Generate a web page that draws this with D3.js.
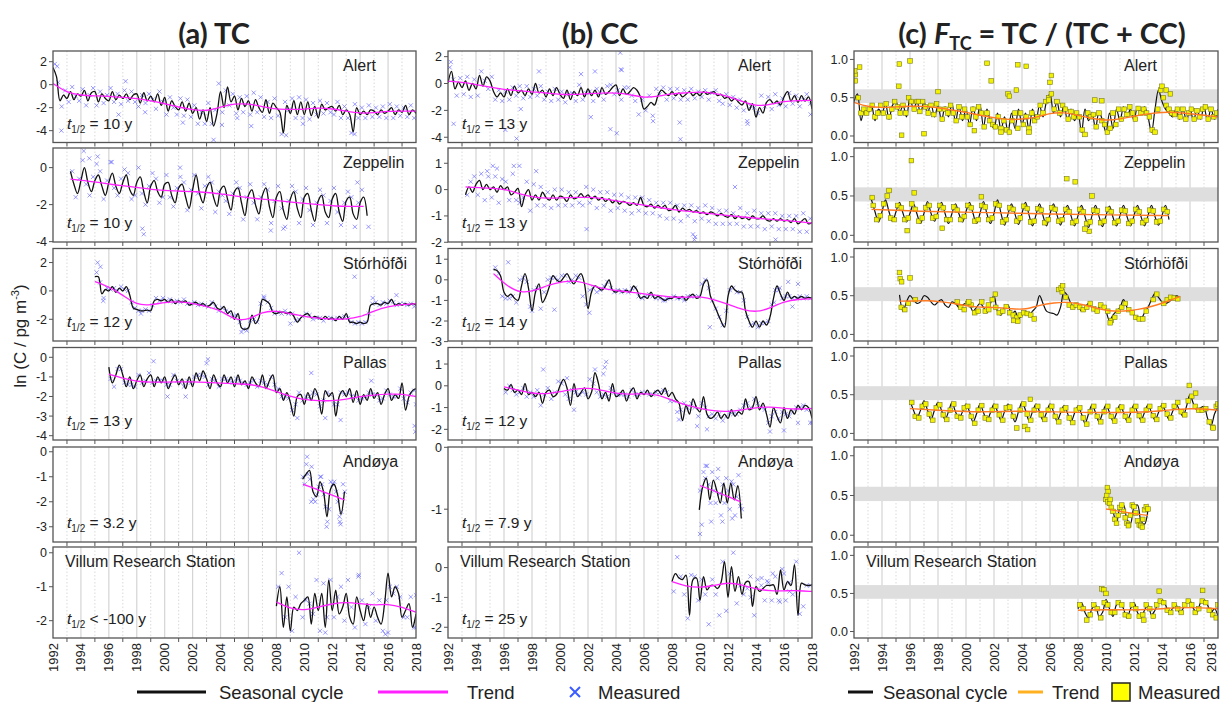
<!DOCTYPE html>
<html>
<head>
<meta charset="utf-8">
<script src="https://cdn.jsdelivr.net/npm/d3@7"></script>
<style>
  body { margin: 0; background: #fff; }
  text { font-family: "Liberation Sans", Arial, sans-serif; fill: #222; }
</style>
</head>
<body>
<svg id="chart" width="1220" height="702"></svg>
<script>
// ---------- data ----------
// each series is [t0, t1, values]: values are evenly spaced in time from t0 to t1
// outliers are [year, value] pairs

const stations = ["Alert", "Zeppelin", "Stórhöfði", "Pallas", "Andøya", "Villum Research Station"];
const halfLifeTC = ["= 10 y", "= 10 y", "= 12 y", "= 13 y", "= 3.2 y", "< -100 y"];
const halfLifeCC = ["= 13 y", "= 13 y", "= 14 y", "= 12 y", "= 7.9 y", "= 25 y"];
const yearLabels = d3.range(1992, 2019, 2);

const yDomTC = [[-5.03, 2.93], [-4.02, 1.06], [-3.53, 2.99], [-4.22, 0.5], [-3.61, 0.19], [-2.51, 0.17]];
const yTicksTC = [[2, 0, -2, -4], [0, -2, -4], [2, 0, -2], [0, -1, -2, -3, -4], [0, -1, -2, -3], [0, -1, -2]];
const yDomCC = [[-4.39, 2.42], [-1.99, 1.58], [-2.97, 1.52], [-2.49, 1.76], [-1.53, 0.005], [-2.36, 0.69]];
const yTicksCC = [[2, 0, -2, -4], [1, 0, -1, -2], [1, 0, -1, -2, -3], [1, 0, -1, -2], [0, -1], [0, -1, -2]];
const yDomF = [-0.085, 1.11];
const yTicksF = [1.0, 0.5, 0.0];
const fBand = [0.43, 0.61];

// ---- TC ----
const tcAlertSeas = [1.5,0.7,-1.4,-0.9, -1.2,-0.6,-1.3,-0.8, -1.0,-0.5,-1.4,-0.7, -0.6,-1.5,-0.8,-1.2,
  -1.4,-0.6,-1.3,-0.9, -1.2,-0.8,-1.3,-0.9, -0.8,-1.6,-0.7,-1.4, -1.0,-1.5,-0.8,-1.8,
  -1.1,-2.3,-1.4,-1.9, -2.2,-1.5,-2.3,-1.6, -2.5,-2.0,-3.0,-2.2, -3.2,-2.0,-3.6,-2.5,
  -0.6,-2.0,-0.2,-1.5, -1.0,-2.2,-1.2,-1.9, -1.4,-2.3,-1.3,-2.0, -2.4,-1.3,-2.5,-1.6,
  -2.0,-2.4,-4.2,-1.8, -2.5,-1.4,-2.6,-1.5, -2.6,-1.5,-2.7,-1.9, -2.9,-1.7,-2.2,-2.0,
  -1.9,-2.3,-1.8,-2.6, -2.2,-2.6,-4.1,-2.0, -2.6,-2.3,-2.6,-2.2, -2.3,-2.6,-2.2,-2.5,
  -2.3,-2.0,-2.6,-2.2, -2.4,-1.8,-2.6,-2.2, -2.5];
const tcAlertTrend = [0.1,-0.7,-0.93,-0.97,-1.0,-1.1,-1.2,-1.4,-1.65,-1.95,-2.2,-2.3,-1.95,-1.65,-1.65,-1.9,-2.15,-2.15,-2.15,-2.0,-2.1,-2.3,-2.5,-2.45,-2.3,-2.3,-2.3];
const tcAlertMeas = [1.8,0.2,-1.9,-0.5, -1.5,-0.2,-1.0,-1.4, -0.4,-1.8,-0.9,-0.3, -1.8,-0.6,-1.6,-0.9,
  -0.3,-1.5,-0.8,-1.7, -0.5,-1.4,-0.6,-1.5, -1.9,-0.9,-1.6,-0.8, -1.3,-2.1,-0.6,-1.5,
  -2.6,-1.1,-2.0,-2.6, -1.2,-2.7,-1.3,-2.8, -1.8,-3.4,-2.4,-3.4, -1.6,-3.4,-2.2,0.1,
  -2.4,-0.5,-1.8,-0.8, -2.5,-1.1,-2.4,-1.0, -2.6,-0.7,-2.4,-1.1, -2.8,-1.5,-2.9,-1.2,
  -2.7,-4.3,-1.5,-2.2, -1.2,-2.9,-1.1,-2.9, -1.3,-3.0,-1.6,-2.6, -1.4,-2.5,-1.6,-2.4,
  -2.6,-1.5,-2.9,-1.9, -2.9,-4.2,-1.7,-2.9, -2.0,-2.9,-1.8,-2.8, -2.0,-2.8,-1.9,-2.9,
  -1.7,-2.9,-1.9,-2.7, -2.0,-2.8,-1.8,-2.9];
const tcAlertOut = [[1992.6,-4.0],[1996.7,-2.6],[2001.3,-3.3],[2003.5,-4.8],[2006.2,-3.6],[2008.7,-4.4],
  [2009.9,-3.4],[2013.6,-4.3],[1997.2,0.3],[2004.1,-3.5],[1992.3,1.6],[1998.6,-2.4],[2005.2,-2.9]];

const tcZepSeas = [-0.2,-0.9,-1.4,-0.7, 0.0,-0.8,-1.3,-0.7, -0.4,-1.0,-1.5,-0.8, -0.3,-1.0,-1.4,-0.8,
  -0.4,-1.2,-1.5,-0.8, -0.5,-1.3,-1.9,-1.0, -0.7,-1.3,-1.6,-0.9, -0.8,-1.5,-1.9,-1.1,
  -0.9,-1.6,-2.2,-1.2, -0.4,-1.4,-1.9,-1.1, -0.8,-1.6,-2.1,-1.2, -1.0,-1.7,-2.3,-1.3,
  -1.1,-1.9,-2.6,-1.5, -1.2,-2.0,-2.5,-1.5, -1.1,-2.1,-2.7,-1.6, -1.3,-2.3,-2.8,-1.7,
  -1.3,-2.2,-2.7,-1.6, -1.4,-2.3,-2.9,-1.8, -1.5,-2.4,-2.7,-1.7, -1.4,-2.4,-2.9,-1.8,
  -1.6,-2.5,-2.8,-1.9, -1.6,-2.6];
const tcZepTrend = [-0.62,-0.7,-0.8,-0.92,-1.0,-1.1,-1.2,-1.25,-1.28,-1.3,-1.35,-1.45,-1.55,-1.65,-1.72,-1.8,-1.88,-1.95,-2.02,-2.08,-2.1,-2.1];
const tcZepMeas = [-0.2,-1.6,-0.6,0.4, -0.9,-1.5,-0.5,0.2, -0.2,-1.7,-0.7,0.3, -1.1,-1.5,-0.6,-0.1,
  -0.3,-1.7,-1.5,0.0, -1.4,-2.0,-1.0,-0.3, -0.6,-1.9,-1.6,-0.4, -1.6,-2.1,-1.1,-0.5,
  -0.8,-2.3,-1.2,-0.4, -1.4,-2.2,-1.0,-0.5, -0.8,-2.4,-1.3,-1.5, -1.8,-2.5,-1.4,-0.8,
  -1.1,-2.8,-1.6,-0.9, -1.9,-2.8,-1.6,-0.9, -1.2,-3.0,-1.8,-1.0, -2.2,-3.2,-1.8,-1.0,
  -1.3,-3.0,-1.7,-1.1, -2.3,-3.1,-1.9,-1.2, -1.5,-3.0,-1.8,-1.1, -2.4,-3.1,-1.9,-1.3,
  -1.6,-3.2,-1.9,-1.2];
const tcZepOut = [[1994.2,0.9],[1995.2,0.6],[1998.4,-3.3],[1998.5,-3.6],[2001.1,0.0],[2008.5,-3.3],
  [2013.8,-0.8],[2014.6,-3.2],[1994.6,0.5],[1996.2,0.3],[2007.6,-3.4]];

const tcStoSeas = [1.0,1.0,-0.2,0.1, 0.0,0.3,-0.1,0.2, 0.0,0.3,-0.3,-1.2, -1.3,-1.4,-1.4,-1.35,
  -1.4,-0.7,-0.6,-0.7, -0.6,-0.8,-0.6,-0.9, -0.7,-0.8,-0.7,-1.0, -0.9,-0.8,-1.0,-0.9,
  -1.1,-1.0,-0.8,-1.2, -1.3,-1.1,-1.6,-1.4, -2.0,-1.6,-2.6,-2.7, -2.6,-1.7,-2.3,-1.9,
  -0.6,-0.7,-0.9,-1.5, -1.6,-1.5,-1.5,-1.6, -1.5,-1.8,-2.2,-1.9, -1.7,-1.6,-1.9,-1.8,
  -1.9,-2.0,-1.8,-2.0, -1.9,-2.1,-1.8,-2.0, -1.6,-2.2,-2.2,-2.3, -2.2,-2.3,-2.2,-1.0,
  -0.9,-0.9,-1.0,-0.8, -0.9,-0.6,-1.0,-0.9, -1.0,-0.9,-1.0,-0.9, -1.0];
const tcStoTrend = [0.66,0.3,-0.3,-1.0,-1.0,-0.8,-0.75,-0.87,-1.1,-1.35,-2.05,-2.05,-1.45,-1.4,-1.6,-1.8,-1.93,-2.0,-2.0,-1.85,-1.4,-1.1,-0.95,-0.9];
const tcStoMeas = [1.3,0.6,-0.5,0.2, 0.1,0.2,0.0,0.3, 0.1,0.0,-0.8,-1.2, -1.4,-1.4,-1.3,-1.4,
  -1.0,-0.5,-0.7,-0.5, -0.7,-0.6,-0.8,-0.7, -0.8,-0.6,-0.9,-0.9, -0.8,-1.0,-0.9,-1.0,
  -1.1,-0.8,-1.1,-1.4, -1.2,-1.4,-1.5,-1.8, -1.7,-2.2,-2.7,-2.8, -2.1,-2.0,-2.2,-0.9,
  -0.5,-0.8,-1.2,-1.6, -1.5,-1.6,-1.4,-1.6, -1.6,-2.1,-2.0,-1.8, -1.6,-1.7,-2.0,-1.9,
  -1.9,-2.1,-1.9,-1.9, -2.0,-1.9,-1.9,-1.8, -1.9,-2.2,-2.3,-2.2, -2.3,-2.2,-1.6,-0.9,
  -0.8,-1.0,-0.8,-0.9, -0.7,-0.8,-1.0,-0.9, -0.9,-1.0,-0.9,-1.1];
const tcStoOut = [[1995.2,2.0],[1995.4,1.7],[1995.6,-0.7],[2013.6,1.0],[2014.9,-0.5],[2016.6,-0.3],
  [2009.0,-2.3],[2005.5,-2.9],[1998.3,-1.6],[2007.1,-0.4]];

const tcPalSeas = [-0.5,-1.3,-0.9,-0.4, -0.9,-1.5,-1.0,-1.6, -1.2,-0.9,-1.5,-1.1, -0.9,-1.5,-1.0,-1.3,
  -1.0,-1.6,-1.2,-0.9, -1.4,-1.1,-1.6,-1.0, -1.5,-0.8,-1.2,-0.7, -1.1,-1.6,-0.9,-1.3,
  -1.5,-0.9,-1.3,-1.0, -1.5,-0.9,-1.4,-1.2, -1.6,-1.0,-1.3,-1.5, -0.9,-1.6,-1.2,-0.9,
  -1.8,-1.6,-2.2,-1.8, -2.3,-3.0,-2.0,-1.9, -2.4,-1.8,-2.2,-1.6, -2.0,-2.9,-1.7,-2.0,
  -1.8,-3.0,-2.0,-1.7, -2.0,-1.6,-2.3,-1.7, -2.4,-1.9,-2.2,-1.6, -2.1,-1.8,-2.4,-1.9,
  -1.6,-2.2,-1.9,-2.1, -1.3,-2.7,-2.0,-1.7, -1.6];
const tcPalTrend = [-0.86,-1.07,-1.24,-1.27,-1.27,-1.26,-1.24,-1.28,-1.32,-1.35,-1.37,-1.5,-1.75,-2.0,-2.17,-2.22,-2.22,-2.14,-2.0,-1.92,-1.88,-1.86,-2.0];
const tcPalMeas = [-1.1,-1.5,-0.6,-0.6, -1.3,-1.4,-1.4,-1.5, -0.9,-1.3,-1.2,-0.8, -1.3,-1.2,-1.2,-1.2,
  -1.4,-1.4,-0.9,-1.2, -1.3,-1.5,-1.2,-1.3, -1.0,-0.9,-0.9,-1.0, -1.4,-1.1,-1.2,-1.5,
  -1.1,-1.1,-1.2,-1.3, -1.1,-1.2,-1.3,-1.4, -1.3,-1.2,-1.5,-1.2, -1.3,-1.4,-1.0,-1.4,
  -1.6,-2.0,-2.0,-2.1, -2.7,-2.4,-1.8,-2.2, -2.0,-2.0,-1.8,-1.9, -2.5,-2.2,-1.8,-1.9,
  -2.4,-2.4,-1.8,-1.9, -1.8,-2.0,-2.0,-2.2, -2.1,-2.0,-1.8,-1.9, -1.9,-2.2,-2.1,-1.7,
  -1.9,-2.0,-2.0,-1.6, -2.1,-2.3,-1.8,-1.7];
const tcPalOut = [[1999.2,-0.2],[2000.2,-2.0],[2003.0,-0.3],[2003.1,-0.1],[2001.5,-2.0],[2009.5,-3.1],
  [2012.6,-3.2],[2011.5,-3.1],[2017.9,-3.5],[2017.95,-3.8],[2018,-2.4],[2010.5,-0.8],[2014.8,-1.2]];

const tcAndSeas = [-1.1,-0.9,-0.75,-1.6,-1.8,-1.2,-1.6,-2.6,-1.5,-1.3,-1.7,-2.5,-1.6];
const tcAndTrend = [-1.3,-1.5,-1.72,-1.93];
const tcAndMeas = [-1.0,-1.3,-0.5,-0.9,-1.1,-0.6,-1.9,-2.0,-1.7,-1.4,-1.0,-1.3,-1.7,-2.2,-2.8,-2.3,
  -1.2,-1.3,-1.2,-1.6,-2.0,-2.6,-2.4,-1.3,-1.6];
const tcAndOut = [[2010.2,-0.2],[2011.6,-3.0],[2012.6,-2.9],[2012.55,-2.8],[2010.5,-2.0],[2011.2,-1.0]];

const tcVilSeas = [-1.57,-1.0,-2.2,-1.3, -2.3,-1.6,-1.7,-1.5, -1.4,-1.3,-2.1,-1.2, -1.7,-1.2,-2.2,-0.8,
  -1.7,-1.1,-1.8,-1.6, -1.2,-1.9,-2.1,-1.3, -1.7,-2.0,-1.5,-1.9, -1.6,-1.9,-2.1,-1.5,
  -0.6,-1.3,-1.0,-1.2, -1.9,-1.7,-1.5,-2.2, -1.8];
const tcVilTrend = [-1.45,-1.65,-1.7,-1.6,-1.5,-1.45,-1.5,-1.55,-1.5,-1.6,-1.75];
const tcVilMeas = [-1.0,-0.6,-1.9,-1.0, -2.3,-1.3,0.0,-1.9, -1.4,-1.5,-1.8,-0.8, -2.3,-0.9,-1.9,-0.8,
  -1.9,-1.3,-1.0,-2.0, -0.8,-1.6,-2.2,-0.7, -1.4,-2.1,-1.6,-1.2, -2.0,-1.4,-2.3,-1.4,
  -1.0,-1.2,-1.0,-1.3, -1.9,-1.9,-1.3,-2.2];
const tcVilOut = [[2011.5,-2.35],[2015.8,-2.4],[2016.0,-2.35],[2018.0,-1.25],[2018.0,-2.2],[2013.9,-0.65]];

// ---- CC ----
const ccAlertSeas = [0.05,0.9,-0.4,0.1, -0.3,0.2,-0.5,0.0, -0.4,0.6,-0.2,0.5, 0.2,-0.6,-1.0,-0.7,
  -1.0,-0.4,-0.9,-0.2, -0.7,-0.5,-0.9,-0.4, -0.8,0.0,-0.7,-0.5, -1.0,-0.4,-0.9,-0.3,
  -0.8,-1.1,-0.5,-1.2, -0.6,-0.9,-0.3,-1.0, -0.4,-0.9,-0.5,-1.0, -0.3,-0.8,-0.6,-0.3,
  -0.1,-0.9,-0.4,-0.8, -0.6,-0.3,-0.5,-1.0, -1.9,-1.7,-1.4,-1.6, -0.9,-0.5,-0.7,-0.9,
  -0.6,-0.9,-0.7,-1.0, -0.8,-0.6,-0.9,-0.7, -0.9,-0.6,-0.8,-0.7, -0.6,-0.9,-0.8,-1.1,
  -1.0,-1.3,-1.1,-1.4, -1.6,-1.3,-2.0,-1.5, -2.5,-1.8,-2.2,-1.4, -1.2,-1.5,-1.3,-1.6,
  -1.0,-0.6,-1.3,-0.9, -1.4,-0.9,-1.3,-1.0, -1.9];
const ccAlertTrend = [0.17,0.1,-0.07,-0.27,-0.45,-0.52,-0.62,-0.7,-0.82,-0.82,-0.75,-0.7,-0.7,-0.82,-1.07,-0.95,-0.75,-0.7,-0.62,-0.7,-0.95,-1.32,-1.7,-1.57,-1.32,-1.27,-1.25];
const ccAlertMeas = [1.2,0.3,-0.9,0.4, -0.8,0.5,-1.0,0.3, -0.9,0.9,0.2,-0.4, 0.5,-1.2,-0.5,-1.3,
  -0.6,-1.2,-0.3,-0.9, -0.2,-1.1,-0.2,-1.0, -0.4,-0.9,-0.2,-1.2, -0.6,-1.3,-0.4,-1.2,
  -0.6,-1.4,-0.8,-0.7, -1.3,-0.1,-1.2,-0.7, -0.6,-1.3,-0.4,-0.7, -1.2,-0.2,-0.1,-0.8,
  -0.5,-1.2,-0.3,-0.3, -0.9,-1.3,-2.3,-1.2, -2.0,-0.9,-2.4,-0.4, -0.8,-0.3,-1.2,-0.4,
  -1.1,-0.4,-1.2,-0.5, -1.2,-0.4,-1.1,-0.6, -1.0,-0.5,-1.2,-0.7, -0.5,-1.3,-1.5,-0.8,
  -1.6,-1.0,-1.8,-1.2, -2.0,-2.8,-1.7,-1.8, -2.2,-0.9,-1.7,-1.0, -1.9,-0.8,-1.6,-1.1,
  -1.7,-0.7,-1.5,-0.9, -1.7,-1.2,-0.8,-1.5];
const ccAlertOut = [[2004.3,2.3],[2004.35,1.05],[2004.4,1.0],[2002.5,0.9],[2003.6,-3.4],[2004.05,-3.7],
  [2006.65,-2.8],[2008.6,-4.15],[2008.55,-2.9],[1996.9,-4.1],[1996.1,-3.45],[1992.4,-3.0],[1997.2,-1.9],
  [2013.4,-3.0],[2002.2,-2.5],[1998.5,0.9],[2001.5,0.7],[1992.2,1.6],[2017.9,-2.3]];

const ccZepSeas = [-0.2,0.1,-0.1,0.2, 0.35,0.0,0.2,0.0, 0.1,-0.1,0.15,0.0, 0.1,-0.2,-0.1,0.05,
  -0.65,-0.2,0.0,-0.4, -0.2,-0.4,-0.1,-0.3, -0.4,-0.2,-0.4,-0.25, -0.3,-0.45,-0.2,-0.35,
  -0.3,-0.15,-0.3,-0.2, -0.35,-0.25,-0.4,-0.3, -0.45,-0.35,-0.5,-0.4, -0.55,-0.45,-0.5,-0.6,
  -0.5,-0.6,-0.3,-0.6, -0.65,-0.55,-0.7,-0.6, -0.7,-0.6,-0.8,-0.75, -0.6,-0.85,-0.7,-0.8,
  -0.75,-0.85,-0.8,-0.9, -0.85,-0.95,-0.85,-0.9, -1.0,-0.9,-1.0,-1.05, -0.95,-1.1,-1.0,-1.1,
  -1.05,-1.15,-1.0,-1.1, -1.1,-1.0,-1.15,-1.2, -1.1,-1.2,-1.1,-1.2, -1.15,-1.25,-1.1,-1.3,
  -1.2,-1.1,-1.3,-1.25];
const ccZepTrend = [0.1,0.08,0.05,0.0,-0.18,-0.3,-0.33,-0.31,-0.3,-0.28,-0.35,-0.44,-0.52,-0.6,-0.68,-0.76,-0.82,-0.88,-0.93,-0.99,-1.04,-1.09,-1.13,-1.17,-1.22,-1.27];
const ccZepMeas = [-0.2,0.3,0.5,-0.2, 0.6,-0.4,0.5,-0.3, 0.5,-0.5,0.4,0.3, -0.4,0.6,-0.4,-0.5,
  -0.3,0.3,-0.8,0.2, -0.6,0.1,-0.6,-0.1, -0.7,0.0,-0.6,0.0, -0.6,-0.1,-0.6,-0.1,
  -0.5,-0.6,0.1,-0.5, 0.0,-0.7,-0.1,-0.6, -0.1,-0.8,-0.2,-0.7, -0.2,-0.8,-0.3,-0.9,
  -0.3,-0.8,-0.3,-0.9, -0.4,-0.9,-0.5,-1.0, -0.5,-1.1,-0.5,-1.1, -0.6,-1.2,-0.6,-1.0,
  -0.6,-1.2,-0.7,-1.1, -0.6,-1.2,-0.7,-1.3, -0.8,-1.3,-0.8,-1.3, -0.9,-1.3,-0.7,-1.4,
  -0.9,-1.4,-0.8,-1.4, -0.9,-1.5,-0.9,-1.4, -0.9,-1.5,-1.0,-1.5, -1.0,-1.5,-1.0,-1.6,
  -0.9,-1.6,-1.1];
const ccZepOut = [[1995.2,0.9],[1997.1,0.9],[1998.3,0.7],[2001.9,-1.5],[2009.5,-1.7],[2009.6,-1.9],
  [2009.65,-1.8],[2012.5,0.1],[2015.4,-1.9],[1995.5,0.8],[1996.7,0.9],[1994.8,0.7]];

const ccStoSeas = [0.5,0.45,0.2,-0.6, -0.8,-0.7,-0.9,-1.0, -0.3,0.3,-0.4,-1.5, -0.6,-0.2,-1.1,-0.8,
  -0.3,0.2,0.0,-0.1, 0.1,0.3,0.0,-0.2, 0.1,0.3,-0.2,-1.4, -0.6,-0.3,-0.4,-0.5,
  -0.3,0.0,-0.5,-0.6, -0.5,-0.6,-0.5,-0.6, -0.3,-0.5,-0.9,-0.8, -0.9,-0.6,-0.9,-0.8,
  -0.9,-1.0,-0.9,-0.9, -0.8,-0.9,-0.8,-1.0, -0.8,-0.7,-0.9,-0.8, -0.2,0.0,-0.8,-1.2,
  -1.6,-2.0,-2.3,-0.8, -0.3,-0.5,-0.6,-0.6, -1.5,-2.0,-2.3,-2.0, -2.3,-2.0,-2.2,-1.8,
  -0.9,-0.3,-0.7,-1.0, -0.6,-0.9,-0.8,-0.9, -0.8,-0.9,-0.85,-0.9];
const ccStoTrend = [0.3,-0.32,-0.65,-0.53,-0.24,-0.08,-0.03,-0.24,-0.45,-0.53,-0.61,-0.69,-0.77,-0.85,-0.85,-0.8,-0.97,-1.2,-1.45,-1.58,-1.37,-1.05,-0.94,-0.92];
const ccStoMeas = [0.6,0.3,-0.8,-0.9, -0.9,-0.8,-1.1,0.0, 0.1,-0.1,-1.3,-0.5, -0.4,-1.4,-0.6,0.0,
  0.1,0.1,0.0,0.2, 0.2,-0.1,0.0,0.2, 0.1,-0.8,-1.2,-0.5, -0.4,-0.6,-0.5,-0.3,
  -0.1,-0.4,-0.6,-0.5, -0.6,-0.5,-0.6,-0.4, -0.4,-0.8,-0.9,-0.8, -0.7,-0.8,-0.9,-0.9,
  -1.0,-0.9,-0.9,-0.8, -0.9,-0.9,-1.0,-0.8, -0.8,-0.8,-0.8,-0.2, 0.0,-0.4,-1.0,-1.4,
  -1.8,-2.2,-1.5,-0.5, -0.4,-0.6,-0.6,-1.0, -1.8,-2.2,-2.1,-2.3, -2.1,-2.1,-2.0,-1.2,
  -0.5,-0.5,-0.9,-0.8, -0.8,-0.9,-0.9,-0.8, -0.9,-0.8,-0.9];
const ccStoOut = [[1996.3,0.85],[1999.6,-1.45],[1998.0,-1.5],[2002.1,-1.6],[2007.5,-1.0],[2010.7,-2.3],
  [2015.7,-0.4],[2016.3,-0.1],[2017.0,-0.2],[2016.6,-1.3],[2015.3,-1.1]];

const ccPalSeas = [-0.12,-0.2,0.05,-0.3, -0.2,-0.4,0.1,-0.4, -0.3,-0.5,-0.3,-0.8, -0.3,-0.2,-0.5,-0.4,
  0.0,0.3,-0.1,-0.9, 0.1,-0.5,-0.3,-0.1, -0.6,-0.3,0.6,0.1, -0.6,-0.3,-0.7,0.1,
  -0.5,-0.4,-0.2,-0.7, -0.3,-0.1,-0.6,-0.3, -0.4,-0.2,-0.5,-0.3, -0.2,-0.4,-0.1,-0.5,
  -0.3,-0.6,-0.8,-1.6, -0.9,-1.3,-0.6,-1.0, -1.2,-0.5,-1.3,-1.5, -1.4,-1.2,-1.5,-1.3,
  -1.5,-1.1,-1.4,-1.2, -1.3,-0.6,-1.1,-1.0, -0.5,-1.1,-0.8,-1.3, -1.9,-1.0,-1.4,-1.7,
  -1.0,-1.5,-1.1,-1.3, -0.9,-1.1,-0.9,-1.0, -1.5];
const ccPalTrend = [-0.05,-0.2,-0.35,-0.38,-0.27,-0.15,-0.09,-0.2,-0.35,-0.4,-0.35,-0.4,-0.66,-0.89,-1.04,-1.16,-1.19,-1.11,-1.0,-0.96,-1.04,-1.08,-1.04];
const ccPalMeas = [-0.3,0.0,-0.2,-0.4, -0.3,-0.1,-0.5,-0.3, -0.5,-0.2,-0.9,-0.4, -0.1,-0.6,-0.3,0.2,
  0.1,-0.4,-0.6,-0.2, -0.3,-0.4,-0.3,-0.4, 0.3,0.1,-0.3,-0.5, -0.4,-0.5,-0.1,-0.3,
  -0.4,-0.4,-0.4,-0.5, -0.2,-0.4,-0.4,-0.3, -0.3,-0.4,-0.4,-0.3, -0.3,-0.2,-0.3,-0.7,
  -0.7,-1.2,-1.1,-0.8, -1.0,-0.8,-1.0,-1.4, -0.8,-1.0,-1.4,-1.3, -1.5,-1.3,-1.6,-1.4,
  -1.2,-1.3,-1.3,-1.1, -0.9,-0.8,-1.0,-0.6, -0.8,-1.0,-1.1,-1.7, -1.4,-1.2,-1.5,-1.2,
  -1.3,-1.4,-1.2,-1.0, -1.0,-0.9,-1.1,-1.7];
const ccPalOut = [[1998.8,0.75],[2000.5,0.35],[2002.5,0.75],[2003.2,0.85],[2003.3,1.1],[2003.1,0.55],
  [2001.0,-1.1],[2008.5,-1.55],[2010.5,-2.0],[2009.8,-1.85],[2015.0,-2.1],[2016.0,-2.05],[2017.0,-1.7],[2018.0,-1.7]];

const ccAndSeas = [-1.01,-0.63,-0.5,-0.85,-0.53,-0.7,-0.9,-0.58,-0.9,-0.58,-0.85,-0.62,-1.15];
const ccAndTrend = [-0.62,-0.7,-0.79,-0.88];
const ccAndMeas = [-0.7,-1.25,-0.4,-0.5,-0.3,-0.6,-0.9,-0.4,-0.7,-0.9,-0.5,-0.75,-1.1,-0.6,-0.9,-0.5,
  -0.7,-1.0,-0.55,-0.6,-1.1,-0.8,-0.45,-0.95,-1.0];
const ccAndOut = [[2010.0,-1.4],[2010.8,-1.2],[2012.3,-1.15],[2011.6,-1.2],[2010.4,-0.3],[2011.3,-0.35]];

const ccVilSeas = [-0.47,-0.2,-0.35,-0.4, -0.25,-1.6,-0.4,-0.35, -1.1,-0.3,-0.75,-0.6, -0.6,-0.7,-0.5,0.2,
  -1.0,0.03,-0.8,-0.3, -0.9,-0.5,-0.47,-1.3, -0.63,-0.8,-0.7,-0.6, -0.6,-0.58,-0.9,-0.08,
  -0.75,-0.47,-0.6,0.1, -1.6,-0.52,-0.58,-0.6, -0.58];
const ccVilTrend = [-0.47,-0.63,-0.67,-0.61,-0.49,-0.58,-0.72,-0.78,-0.78,-0.77,-0.8];
const ccVilMeas = [-0.8,0.35,-0.3,-0.9, -1.7,-0.25,-0.3,-1.1, -0.4,-0.9,-1.9,-0.4, -0.9,-1.6,0.2,-1.45,
  -0.2,0.5,-1.2,-0.6, -0.9,-0.7,-1.0,-1.6, -0.4,-0.6,-1.1,-0.5, -1.1,-0.3,-1.1,-0.05,
  -1.1,-0.5,-0.9,0.2, -1.55,-1.3,-0.6,-0.6];
const ccVilOut = [[2013.6,-0.3],[2014.4,-0.35],[2014.8,-0.45],[2015.2,-0.2],[2016.0,-0.2],[2015.7,-1.15],[2016.4,-0.8]];

// ---- F_TC ----
const fAlertSeas = [0.45,0.55,0.2,0.35, 0.3,0.4,0.2,0.35, 0.3,0.42,0.22,0.4, 0.45,0.3,0.4,0.25,
  0.5,0.35,0.45,0.3, 0.45,0.3,0.42,0.25, 0.4,0.2,0.38,0.25, 0.42,0.18,0.4,0.2,
  0.35,0.15,0.38,0.2, 0.4,0.12,0.35,0.18, 0.1,0.3,0.08,0.25, 0.05,0.3,0.1,0.35,
  0.15,0.3,0.08,0.35, 0.2,0.4,0.25,0.45, 0.55,0.3,0.45,0.25, 0.4,0.2,0.35,0.2,
  0.3,0.05,0.35,0.2, 0.3,0.1,0.32,0.2, 0.05,0.3,0.1,0.35, 0.2,0.38,0.25,0.35,
  0.2,0.38,0.3,0.38, 0.25,0.05,0.35,0.6, 0.45,0.35,0.3,0.25, 0.35,0.22,0.35,0.2,
  0.35,0.2,0.35,0.22, 0.38,0.2,0.35,0.22, 0.35];
const fAlertTrend = [0.44,0.38,0.37,0.38,0.39,0.39,0.37,0.34,0.31,0.27,0.24,0.21,0.22,0.24,0.3,0.31,0.27,0.23,0.2,0.22,0.26,0.29,0.31,0.31,0.29,0.27,0.25];
const fAlertMeas = [0.8,0.5,0.3,0.35,0.3, 0.35,0.4,0.25,0.3,0.4, 0.3,0.42,0.25,0.35,0.45, 0.38,0.3,0.4,0.3,0.5,
  0.45,0.35,0.45,0.32,0.45, 0.38,0.3,0.4,0.28,0.42, 0.35,0.22,0.35,0.3,0.4, 0.3,0.2,0.38,0.25,0.35,
  0.25,0.15,0.35,0.25,0.38, 0.3,0.12,0.3,0.2,0.15, 0.12,0.25,0.1,0.2,0.08, 0.05,0.2,0.3,0.1,0.3,
  0.15,0.25,0.1,0.3,0.2, 0.25,0.4,0.3,0.45,0.5, 0.55,0.35,0.45,0.3,0.4, 0.35,0.22,0.32,0.25,0.3,
  0.25,0.08,0.02,0.3,0.25, 0.28,0.12,0.3,0.2,0.15, 0.05,0.1,0.3,0.15,0.35, 0.22,0.35,0.28,0.38,0.3,
  0.22,0.36,0.3,0.35,0.3, 0.25,0.08,0.05,0.35,0.6, 0.5,0.4,0.35,0.3,0.28, 0.35,0.25,0.35,0.22,0.3,
  0.35,0.22,0.33,0.25,0.35, 0.38,0.22,0.35,0.25,0.3];
const fAlertOut = [[1995.24,0.94],[1996.0,0.98],[2001.5,0.95],[2003.7,0.93],[2004.3,0.91],[2001.8,0.72],
  [2006.1,0.79],[2006.0,0.7],[1995.4,0.01],[1997.0,0.03],[1995.2,0.65],[1992.05,0.85],[1992.1,0.72],
  [1992.4,0.9],[2003.0,0.55],[2003.1,0.52],[2003.6,0.6],[2014.0,0.65],[2014.3,0.6],[2014.6,0.55],
  [2009.7,0.46],[2009.2,0.47],[2005.9,0.47],[1998.0,0.58],[1996.6,0.45],[2000.6,0.07],[2004.5,0.05],[2002.5,0.05]];

const fZepSeas = [0.45,0.3,0.17,0.3, 0.45,0.3,0.18,0.3, 0.42,0.28,0.17,0.28, 0.4,0.27,0.15,0.28,
  0.43,0.28,0.18,0.3, 0.42,0.28,0.15,0.28, 0.4,0.27,0.17,0.3, 0.42,0.28,0.15,0.28,
  0.43,0.27,0.15,0.28, 0.45,0.28,0.13,0.27, 0.4,0.27,0.14,0.28, 0.42,0.26,0.12,0.26,
  0.4,0.25,0.12,0.27, 0.4,0.26,0.13,0.26, 0.38,0.25,0.12,0.25, 0.38,0.24,0.1,0.25,
  0.38,0.24,0.11,0.25, 0.37,0.23,0.12,0.25, 0.38,0.24,0.12,0.25, 0.38,0.24,0.12,0.25,
  0.38,0.24,0.13,0.25, 0.38,0.2];
const fZepTrend = [0.33,0.3,0.29,0.27,0.26,0.25];
const fZepMeas = [0.38,0.2,0.25,0.4, 0.5,0.22,0.2,0.38, 0.35,0.2,0.22,0.4, 0.33,0.18,0.22,0.35,
  0.38,0.22,0.24,0.38, 0.35,0.2,0.2,0.36, 0.32,0.2,0.24,0.38, 0.35,0.18,0.2,0.38,
  0.36,0.2,0.22,0.4, 0.38,0.17,0.2,0.35, 0.33,0.18,0.22,0.37, 0.34,0.17,0.18,0.34,
  0.32,0.16,0.2,0.35, 0.33,0.18,0.2,0.33, 0.3,0.16,0.18,0.33, 0.3,0.15,0.17,0.32,
  0.31,0.16,0.18,0.33, 0.3,0.16,0.18,0.32, 0.31,0.15,0.18,0.33, 0.3,0.16,0.19,0.32,
  0.31,0.17,0.18,0.33, 0.3];
const fZepOut = [[1996.1,0.95],[1996.3,0.54],[1995.8,0.06],[1998.3,0.09],[2001.1,0.49],[2007.2,0.72],
  [2007.8,0.68],[2009.0,0.5],[2008.8,0.05],[1994.5,0.57],[2008.5,0.08],[1993.3,0.48]];

const fStoSeas = [0.51,0.3,0.42,0.5, 0.45,0.4,0.42,0.5, 0.48,0.42,0.38,0.42, 0.45,0.38,0.35,0.42,
  0.4,0.35,0.38,0.4, 0.38,0.3,0.35,0.4, 0.35,0.28,0.4,0.5, 0.3,0.25,0.35,0.38,
  0.25,0.3,0.2,0.25, 0.3,0.25,0.3,0.35, 0.5,0.4,0.3,0.28, 0.27,0.25,0.35,0.55,
  0.5,0.4,0.35,0.38, 0.3,0.35,0.4,0.35, 0.3,0.35,0.38,0.3, 0.18,0.25,0.3,0.35,
  0.45,0.35,0.3,0.25, 0.22,0.2,0.28,0.35, 0.45,0.53,0.48,0.42, 0.4,0.42,0.46,0.5, 0.48];
const fStoTrend = [0.43,0.43,0.44,0.42,0.4,0.36,0.35,0.35,0.33,0.32,0.38,0.41,0.42,0.39,0.34,0.3,0.3,0.32,0.36,0.42,0.49];
const fStoMeas = [0.35,0.32,0.4,null, 0.45,null,null,null, null,null,null,null, null,null,null,null,
  0.42,0.35,0.32,0.4, 0.38,0.28,0.3,0.42, 0.3,0.32,0.45,0.35, 0.28,0.3,0.36,0.28,
  0.25,0.22,0.25,0.28, 0.27,0.25,0.2,null, null,null,null,null, null,0.58,0.55,0.48,
  0.38,0.35,0.38,0.35, 0.32,0.35,0.4,0.33, 0.3,0.38,0.35,0.3, 0.18,0.22,0.3,0.35,
  0.4,0.32,0.28,0.22, 0.2,0.2,0.3,null, 0.45,0.52,null,0.4, 0.45,0.48,0.47,0.46];
const fStoOut = [[1995.25,0.8],[1995.3,0.72],[1995.4,0.68],[1996.0,0.73],[2006.8,0.6],[2006.9,0.63],
  [2002.1,0.52],[2003.4,0.18],[2010.3,0.15],[2003.7,0.17],[2000.2,0.42],[2001.6,0.38]];

const fPalSeas = [0.42,0.3,0.2,0.3, 0.42,0.3,0.18,0.3, 0.4,0.3,0.18,0.28, 0.4,0.28,0.2,0.28,
  0.38,0.28,0.15,0.25, 0.38,0.27,0.17,0.27, 0.38,0.28,0.17,0.28, 0.38,0.28,0.15,0.28,
  0.4,0.3,0.17,0.28, 0.38,0.28,0.17,0.27, 0.38,0.28,0.16,0.26, 0.36,0.26,0.15,0.26,
  0.35,0.25,0.13,0.25, 0.37,0.27,0.15,0.26, 0.37,0.27,0.16,0.26, 0.37,0.27,0.16,0.26,
  0.37,0.27,0.17,0.27, 0.37,0.27,0.17,0.27, 0.37,0.28,0.18,0.28, 0.38,0.3,0.22,0.35,
  0.5,0.38,0.3,0.33, 0.35,0.2,0.1,0.25, 0.35];
const fPalTrend = [0.32,0.3,0.28,0.28,0.29,0.28,0.27,0.27,0.27,0.29,0.33,0.3];
const fPalMeas = [0.4,0.22,0.2,0.35, 0.38,0.25,0.17,0.33, 0.37,0.24,0.18,0.3, 0.38,0.22,0.2,0.33,
  0.35,0.22,0.13,0.3, 0.36,0.2,0.18,0.3, 0.35,0.24,0.17,0.33, 0.34,0.22,0.07,0.3,
  0.38,0.25,0.17,0.3, 0.35,0.24,0.18,0.3, 0.35,0.22,0.15,0.3, 0.33,0.2,0.14,0.3,
  0.33,0.2,0.12,0.28, 0.35,0.22,0.15,0.28, 0.35,0.22,0.16,0.3, 0.34,0.22,0.17,0.3,
  0.35,0.23,0.17,0.3, 0.35,0.23,0.18,0.32, 0.36,0.25,0.2,0.35, 0.4,0.28,0.24,0.42,
  0.48,0.35,0.3,0.3, 0.32,0.15,0.08,0.35];
const fPalOut = [[2004.6,0.44],[2004.2,0.09],[2004.4,0.05],[2015.95,0.62],[2016.4,0.52],[2017.65,0.07],[2018.0,0.38]];

const fAndSeas = [0.43,0.42,0.3,0.15,0.35,0.38,0.2,0.15,0.35,0.38,0.18,0.14,0.32];
const fAndTrend = [0.33,0.3,0.27,0.25];
const fAndMeas = [0.45,0.42,0.4,0.35,0.3,0.2,0.15,0.25,0.35,0.38,0.3,0.22,0.15,0.13,0.25,0.38,
  0.36,0.28,0.18,0.13,0.12,0.2,0.32,0.36,0.33];
const fAndOut = [[2010.1,0.6],[2010.15,0.55],[2010.05,0.5],[2010.3,0.45],[2011.6,0.12],[2012.6,0.1]];

const fVilSeas = [0.3,0.38,0.25,0.18, 0.3,0.35,0.2,0.25, 0.42,0.3,0.2,0.35, 0.38,0.3,0.18,0.3,
  0.38,0.25,0.18,0.28, 0.35,0.22,0.28,0.38, 0.42,0.35,0.25,0.3, 0.35,0.25,0.3,0.38,
  0.4,0.3,0.25,0.38, 0.42,0.35,0.25,0.3, 0.2];
const fVilTrend = [0.28,0.29,0.28,0.3,0.32,0.3];
const fVilMeas = [0.35,0.3,0.15,0.22, 0.35,0.3,0.18,0.38, 0.35,0.25,0.25,0.38, 0.35,0.22,0.2,0.35,
  0.3,0.2,0.22,0.35, 0.3,0.2,0.35,0.4, 0.38,0.28,0.25,0.35, 0.3,0.25,0.35,0.4,
  0.35,0.25,0.3,0.4, 0.38,0.28,0.22,0.18];
const fVilOut = [[2009.7,0.56],[2009.85,0.55],[2010.0,0.5],[2013.8,0.53],[2016.9,0.54],[2018.0,0.35],[2012.7,0.15]];

// ---------- panel table ----------
const tcPanels = [
  {seas:[1992,2018,tcAlertSeas], trend:[1992,2018,tcAlertTrend], meas:[1992.125,2017.875,tcAlertMeas], out:tcAlertOut},
  {seas:[1993.25,2014.5,tcZepSeas], trend:[1993.25,2014.25,tcZepTrend], meas:[1993.375,2014.125,tcZepMeas], out:tcZepOut},
  {seas:[1995,2018,tcStoSeas], trend:[1995,2018,tcStoTrend], meas:[1995.125,2017.875,tcStoMeas], out:tcStoOut},
  {seas:[1996,2018,tcPalSeas], trend:[1996,2018,tcPalTrend], meas:[1996.125,2017.875,tcPalMeas], out:tcPalOut},
  {seas:[2009.875,2012.875,tcAndSeas], trend:[2009.9,2012.9,tcAndTrend], meas:[2009.9,2012.9,tcAndMeas], out:tcAndOut},
  {seas:[2008,2018,tcVilSeas], trend:[2008,2018,tcVilTrend], meas:[2008.125,2017.875,tcVilMeas], out:tcVilOut}
];
const ccPanels = [
  {seas:[1992,2018,ccAlertSeas], trend:[1992,2018,ccAlertTrend], meas:[1992.125,2017.875,ccAlertMeas], out:ccAlertOut},
  {seas:[1993.25,2018,ccZepSeas], trend:[1993.25,2018,ccZepTrend], meas:[1993.375,2017.875,ccZepMeas], out:ccZepOut},
  {seas:[1995.25,2018,ccStoSeas], trend:[1995.25,2018,ccStoTrend], meas:[1995.375,2017.875,ccStoMeas], out:ccStoOut},
  {seas:[1996,2018,ccPalSeas], trend:[1996,2018,ccPalTrend], meas:[1996.125,2017.875,ccPalMeas], out:ccPalOut},
  {seas:[2009.95,2012.95,ccAndSeas], trend:[2010,2012.9,ccAndTrend], meas:[2010,2013,ccAndMeas], out:ccAndOut},
  {seas:[2008,2018,ccVilSeas], trend:[2008,2018,ccVilTrend], meas:[2008.125,2017.875,ccVilMeas], out:ccVilOut}
];
const fPanels = [
  {seas:[1992,2018,fAlertSeas], trend:[1992,2018,fAlertTrend], meas:[1992.1,2017.9,fAlertMeas], out:fAlertOut},
  {seas:[1993.25,2014.5,fZepSeas], trend:[1993.25,2014.5,fZepTrend], meas:[1993.375,2014.375,fZepMeas], out:fZepOut},
  {seas:[1995.25,2015.25,fStoSeas], trend:[1995.25,2015.3,fStoTrend], meas:[1995.375,2015.125,fStoMeas], out:fStoOut},
  {seas:[1996,2018,fPalSeas], trend:[1996,2018,fPalTrend], meas:[1996.125,2017.875,fPalMeas], out:fPalOut},
  {seas:[2010,2013,fAndSeas], trend:[2010,2013,fAndTrend], meas:[2010,2013,fAndMeas], out:fAndOut},
  {seas:[2008,2018,fVilSeas], trend:[2008,2018,fVilTrend], meas:[2008.125,2017.875,fVilMeas], out:fVilOut}
];

// ---------- layout ----------
const svg = d3.select("#chart");
const colX = [[53, 416], [448, 812], [854, 1218]];
const rowY = [[51, 142.5], [148, 242], [248.5, 341], [347.5, 440], [447, 542], [547, 638]];

function toPoints(spec) {
  const [t0, t1, vals] = spec;
  const n = vals.length;
  return vals.map((v, i) => ({ t: t0 + (t1 - t0) * i / (n - 1), v: v }))
             .filter(d => d.v !== null);
}

function drawPanel(col, row, p, kind) {
  const [x0, x1] = colX[col];
  const [y0, y1] = rowY[row];
  const x = d3.scaleLinear().domain([1992, 2018]).range([x0, x1]);
  const dom = kind === "tc" ? yDomTC[row] : kind === "cc" ? yDomCC[row] : yDomF;
  const ticks = kind === "tc" ? yTicksTC[row] : kind === "cc" ? yTicksCC[row] : yTicksF;
  const y = d3.scaleLinear().domain(dom).range([y1, y0]);
  const g = svg.append("g");
  const clipId = "clip" + col + "_" + row;
  g.append("clipPath").attr("id", clipId).append("rect")
    .attr("x", x0).attr("y", y0).attr("width", x1 - x0).attr("height", y1 - y0);

  // year grid: even years solid, odd years dotted
  g.selectAll(".grid").data(d3.range(1993, 2018)).enter().append("line")
    .attr("x1", d => x(d)).attr("x2", d => x(d)).attr("y1", y0).attr("y2", y1)
    .attr("stroke", d => d % 2 === 0 ? "#d4d4d4" : "#d0d0d0")
    .attr("stroke-width", d => d % 2 === 0 ? 1.2 : 0.8)
    .attr("stroke-dasharray", d => d % 2 === 0 ? null : "1.5,2");

  const plot = g.append("g").attr("clip-path", "url(#" + clipId + ")");

  if (kind === "f") {
    plot.append("rect").attr("x", x0).attr("width", x1 - x0)
      .attr("y", y(fBand[1])).attr("height", y(fBand[0]) - y(fBand[1]))
      .attr("fill", "#dedede");
  }

  const seasLine = d3.line().x(d => x(d.t)).y(d => y(d.v)).curve(d3.curveCatmullRom.alpha(0.5));
  const trendLine = d3.line().x(d => x(d.t)).y(d => y(d.v)).curve(d3.curveBasis);
  const meas = toPoints(p.meas).concat(p.out.map(d => ({ t: d[0], v: d[1] })));

  if (kind !== "f") {
    plot.selectAll(".m").data(meas).enter().append("path")
      .attr("transform", d => "translate(" + x(d.t) + "," + y(d.v) + ")")
      .attr("d", "M-2.1,-2.1L2.1,2.1M-2.1,2.1L2.1,-2.1")
      .attr("stroke", "#6464ff").attr("stroke-opacity", 0.65).attr("stroke-width", 1);
    plot.append("path").datum(toPoints(p.seas)).attr("d", seasLine)
      .attr("fill", "none").attr("stroke", "#111").attr("stroke-width", 1.3);
    plot.append("path").datum(toPoints(p.trend)).attr("d", trendLine)
      .attr("fill", "none").attr("stroke", "#ff22ff").attr("stroke-width", 1.3);
  } else {
    plot.append("path").datum(toPoints(p.seas)).attr("d", seasLine)
      .attr("fill", "none").attr("stroke", "#111").attr("stroke-width", 1.2);
    plot.selectAll(".m").data(meas).enter().append("rect")
      .attr("x", d => x(d.t) - 2.3).attr("y", d => y(d.v) - 2.3)
      .attr("width", 4.6).attr("height", 4.6)
      .attr("fill", "#f2f200").attr("stroke", "#7a7a20").attr("stroke-width", 0.6);
    plot.append("path").datum(toPoints(p.trend)).attr("d", trendLine)
      .attr("fill", "none").attr("stroke", "#ff7a22").attr("stroke-width", 1.4);
  }

  // frame
  g.append("rect").attr("x", x0).attr("y", y0).attr("width", x1 - x0).attr("height", y1 - y0)
    .attr("fill", "none").attr("stroke", "#555").attr("stroke-width", 1.3);

  // y ticks + labels
  g.selectAll(".yt").data(ticks).enter().append("line")
    .attr("x1", x0 - 4).attr("x2", x0).attr("y1", d => y(d)).attr("y2", d => y(d))
    .attr("stroke", "#555");
  g.selectAll(".yl").data(ticks).enter().append("text")
    .attr("x", x0 - 6).attr("y", d => y(d) + 4.5)
    .attr("text-anchor", "end").attr("font-size", 12.5).attr("fill", "#333")
    .text(d => kind === "f" ? d3.format(".1f")(d) : (d < 0 ? "-" + Math.abs(d) : d));

  // x ticks (odd years)
  g.selectAll(".xt").data(d3.range(1993, 2018, 2)).enter().append("line")
    .attr("x1", d => x(d)).attr("x2", d => x(d)).attr("y1", y1).attr("y2", y1 + 4)
    .attr("stroke", "#555");

  // station label
  const name = stations[row];
  if (row === 5) {
    g.append("text").attr("x", x0 + 12).attr("y", y0 + 20).attr("font-size", 16).text(name);
  } else {
    g.append("text").attr("x", x0 + (kind === "f" ? 270 : 290)).attr("y", y0 + 20)
      .attr("font-size", 16).text(name);
  }

  // half-life label
  if (kind !== "f") {
    const hl = (kind === "tc" ? halfLifeTC : halfLifeCC)[row];
    const t = g.append("text").attr("x", x0 + 14).attr("y", y1 - 14).attr("font-size", 15.5);
    t.append("tspan").attr("font-style", "italic").text("t");
    t.append("tspan").attr("font-size", 10).attr("dy", 4).text("1/2");
    t.append("tspan").attr("dy", -4).text(" " + hl);
  }

  // year labels under bottom row
  if (row === 5) {
    g.selectAll(".xl").data(yearLabels).enter().append("text")
      .attr("transform", d => "translate(" + Math.min(x(d) + 4.5, 1215.5) + "," + (y1 + 5) + ") rotate(-90)")
      .attr("text-anchor", "end").attr("font-size", 13).attr("fill", "#333")
      .text(d => d);
  }
}

tcPanels.forEach((p, i) => drawPanel(0, i, p, "tc"));
ccPanels.forEach((p, i) => drawPanel(1, i, p, "cc"));
fPanels.forEach((p, i) => drawPanel(2, i, p, "f"));

// titles
const titleFont = "Lato, 'Open Sans', sans-serif";
svg.append("text").attr("x", 214).attr("y", 44).attr("text-anchor", "middle")
  .style("font-family", titleFont).attr("font-weight", "bold").attr("font-size", 29).text("(a) TC");
svg.append("text").attr("x", 600).attr("y", 44).attr("text-anchor", "middle")
  .style("font-family", titleFont).attr("font-weight", "bold").attr("font-size", 29).text("(b) CC");
const tc = svg.append("text").attr("x", 1042).attr("y", 44).attr("text-anchor", "middle")
  .style("font-family", titleFont).attr("font-weight", "bold").attr("font-size", 29);
tc.append("tspan").text("(c) ");
tc.append("tspan").attr("font-style", "italic").text("F");
tc.append("tspan").attr("font-size", 18).attr("dy", 6).text("TC");
tc.append("tspan").attr("dy", -6).text(" = TC / (TC + CC)");

// y-axis title
svg.append("text").attr("transform", "translate(26,336) rotate(-90)")
  .attr("text-anchor", "middle").attr("font-size", 17)
  .html('ln (C / pg m<tspan dy="-7" font-size="11">-3</tspan><tspan dy="7">)</tspan>');

// legends
const ly = 692;
const leg = svg.append("g").attr("font-size", 18.5);
leg.append("line").attr("x1", 137).attr("x2", 206).attr("y1", ly).attr("y2", ly).attr("stroke", "#111").attr("stroke-width", 3);
leg.append("text").attr("x", 219).attr("y", ly + 7).text("Seasonal cycle");
leg.append("line").attr("x1", 378).attr("x2", 448).attr("y1", ly).attr("y2", ly).attr("stroke", "#ff22ff").attr("stroke-width", 3);
leg.append("text").attr("x", 467).attr("y", ly + 7).text("Trend");
leg.append("path").attr("transform", "translate(575," + ly + ")").attr("d", "M-5,-5L5,5M-5,5L5,-5")
  .attr("stroke", "#3a5cff").attr("stroke-width", 2);
leg.append("text").attr("x", 598).attr("y", ly + 7).text("Measured");

leg.append("line").attr("x1", 848).attr("x2", 873).attr("y1", ly).attr("y2", ly).attr("stroke", "#111").attr("stroke-width", 3);
leg.append("text").attr("x", 883).attr("y", ly + 7).text("Seasonal cycle");
leg.append("line").attr("x1", 1018).attr("x2", 1043).attr("y1", ly).attr("y2", ly).attr("stroke", "#ffb020").attr("stroke-width", 3);
leg.append("text").attr("x", 1052).attr("y", ly + 7).text("Trend");
leg.append("rect").attr("x", 1112).attr("y", ly - 9).attr("width", 18).attr("height", 18)
  .attr("fill", "#ffff00").attr("stroke", "#222").attr("stroke-width", 1.5);
leg.append("text").attr("x", 1138).attr("y", ly + 7).text("Measured");
</script>
</body>
</html>
